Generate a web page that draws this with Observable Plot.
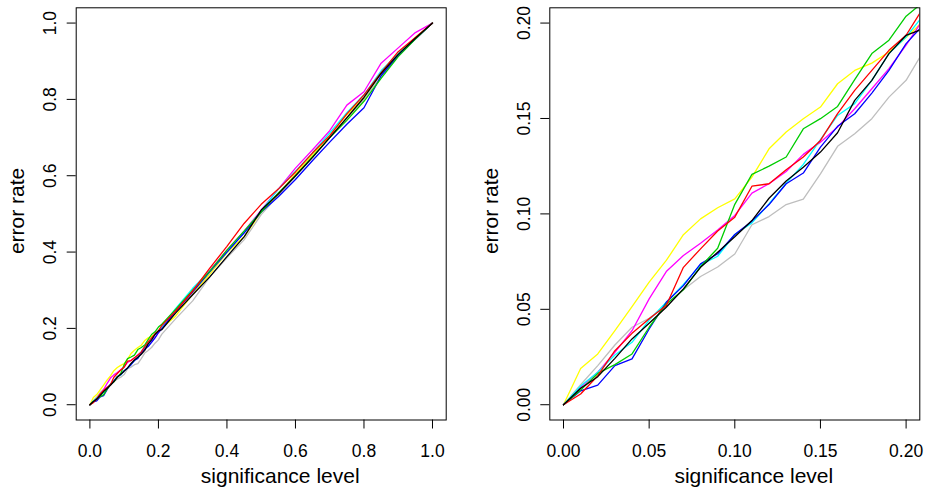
<!DOCTYPE html>
<html>
<head>
<meta charset="utf-8">
<script src="https://cdn.jsdelivr.net/npm/d3@7"></script>
<script src="https://cdn.jsdelivr.net/npm/@observablehq/plot@0.6"></script>
<style>
html, body { margin: 0; padding: 0; background: #fff; }
#wrap { position: relative; width: 930px; height: 491px; overflow: hidden; background: #fff; }
#left, #right { position: absolute; top: 0; }
#left { left: 0; }
#right { left: 465px; }
</style>
</head>
<body>
<div id="wrap"><div id="left"></div><div id="right"></div></div>
<script>
// significance levels at which each error rate was read
const levels = [0, 0.01, 0.02, 0.03, 0.04, 0.05, 0.06, 0.07, 0.08, 0.09, 0.10,
  0.11, 0.12, 0.13, 0.14, 0.15, 0.16, 0.17, 0.18, 0.19, 0.20, 0.21,
  0.25, 0.30, 0.35, 0.40, 0.45, 0.50, 0.55, 0.60, 0.65, 0.70, 0.75, 0.80, 0.85, 0.90, 0.95, 1.00];

// observed error rates per series
const black   = [0, .0086, .0147, .0243, .0345, .0427, .0511, .0607, .072, .0799, .088, .0965, .1082, .1172, .1245, .1324, .1425, .1595, .17, .184, .1936, .197,
  .240, .288, .335, .388, .440, .510, .552, .600, .648, .700, .752, .805, .868, .918, .960, 1.0];
const red     = [0, .0056, .0152, .0283, .0374, .045, .052, .072, .0817, .091, .0983, .1145, .1158, .1231, .1298, .1385, .1525, .1647, .1752, .1857, .1936, .208,
  .245, .298, .358, .415, .475, .525, .565, .610, .660, .705, .762, .812, .870, .925, .962, 1.0];
const green   = [0, .0077, .0164, .021, .0266, .0406, .0528, .0602, .0724, .082, .105, .1207, .125, .1298, .1446, .1499, .1563, .1704, .184, .191, .2036, .211,
  .250, .300, .350, .405, .455, .505, .555, .600, .650, .700, .745, .795, .855, .912, .958, 1.0];
const blue    = [0, .0073, .0103, .0205, .024, .0397, .0537, .0624, .0738, .0791, .0892, .0962, .1049, .1158, .1214, .135, .1459, .1525, .1633, .1752, .1892, .199,
  .245, .295, .348, .400, .450, .505, .545, .590, .640, .688, .735, .778, .862, .915, .958, 1.0];
const cyan    = [0, .0098, .017, .0261, .0327, .0444, .0537, .063, .0733, .0778, .0892, .0953, .1053, .1161, .1259, .1389, .1516, .1578, .17, .184, .1927, .204,
  .252, .305, .350, .400, .452, .508, .565, .612, .660, .712, .765, .812, .875, .920, .960, 1.0];
const magenta = [0, .0091, .017, .0274, .0388, .0555, .0698, .0782, .0846, .0916, .0992, .1109, .1158, .1222, .1312, .1376, .1455, .1551, .1656, .1761, .1884, .202,
  .248, .300, .352, .405, .455, .510, .565, .620, .668, .718, .785, .820, .895, .935, .975, 1.0];
const yellow  = [0, .019, .0266, .0388, .0514, .0642, .0756, .0891, .0974, .1032, .1079, .1193, .1341, .1429, .1499, .156, .1682, .1752, .179, .1848, .1924, .201,
  .232, .290, .342, .398, .440, .505, .552, .605, .655, .705, .760, .805, .868, .920, .962, 1.0];
const gray    = [0, .0105, .0205, .0313, .0406, .0453, .052, .0602, .0672, .0722, .079, .0943, .0986, .1049, .1077, .121, .1354, .142, .1499, .1612, .17, .185,
  .225, .272, .335, .385, .432, .498, .548, .598, .648, .700, .750, .800, .860, .915, .958, 1.0];

const seriesNames  = ["black", "red", "green3", "blue", "cyan", "magenta", "yellow", "gray"];
const seriesColors = ["#000000", "#FF0000", "#00CD00", "#0000FF", "#00FFFF", "#FF00FF", "#FFFF00", "#BEBEBE"];
const seriesValues = [black, red, green, blue, cyan, magenta, yellow, gray];

const leftTicks  = [0, 0.2, 0.4, 0.6, 0.8, 1.0];
const rightTicks = [0, 0.05, 0.10, 0.15, 0.20];
const xTitle = "significance level";
const yTitle = "error rate";

// long table; black drawn last (on top)
const rows = [];
for (let i = seriesNames.length - 1; i >= 0; --i) {
  levels.forEach((a, j) => rows.push({series: seriesNames[i], alpha: a, err: seriesValues[i][j]}));
}

const FONT = "'Liberation Sans', Arial, Helvetica, sans-serif";

function panel({marginLeft, marginRight, domain, ticks, digits}) {
  const fmt = d => d.toFixed(digits);
  return Plot.plot({
    width: 465,
    height: 491,
    marginLeft, marginRight,
    marginTop: 7.3,
    marginBottom: 71.5,
    x: {domain},
    y: {domain},
    color: {domain: seriesNames, range: seriesColors},
    style: {fontFamily: FONT, background: "#fff", color: "#000", overflow: "visible"},
    marks: [
      Plot.line(rows, {x: "alpha", y: "err", z: "series", stroke: "series", strokeWidth: 1.3, clip: true}),
      Plot.frame({stroke: "#000", strokeWidth: 1}),
      Plot.axisX({ticks, tickSize: 9, tickFormat: () => "", label: null, strokeWidth: 1}),
      Plot.axisY({ticks, tickSize: 9, tickFormat: () => "", label: null, strokeWidth: 1}),
      Plot.text(ticks, {x: d => d, frameAnchor: "bottom", dy: 37, lineAnchor: "bottom", text: fmt, fontSize: 17.5, fill: "#000"}),
      Plot.text(ticks, {y: d => d, frameAnchor: "left", dx: -20.2, rotate: -90, lineAnchor: "bottom", textAnchor: "middle", text: fmt, fontSize: 17.5, fill: "#000"}),
      Plot.text([xTitle], {frameAnchor: "bottom", dx: 19, dy: 63, lineAnchor: "bottom", text: d => d, fontSize: 21, fill: "#000"}),
      Plot.text([yTitle], {frameAnchor: "left", dx: -52.2, dy: -3, rotate: -90, lineAnchor: "bottom", textAnchor: "middle", text: d => d, fontSize: 21, fill: "#000"})
    ]
  });
}

document.getElementById("left").append(panel({
  marginLeft: 75.7, marginRight: 19.3, domain: [-0.04, 1.04], ticks: leftTicks, digits: 1
}));
document.getElementById("right").append(panel({
  marginLeft: 84.3, marginRight: 10.7, domain: [-0.008, 0.208], ticks: rightTicks, digits: 2
}));
</script>
</body>
</html>
